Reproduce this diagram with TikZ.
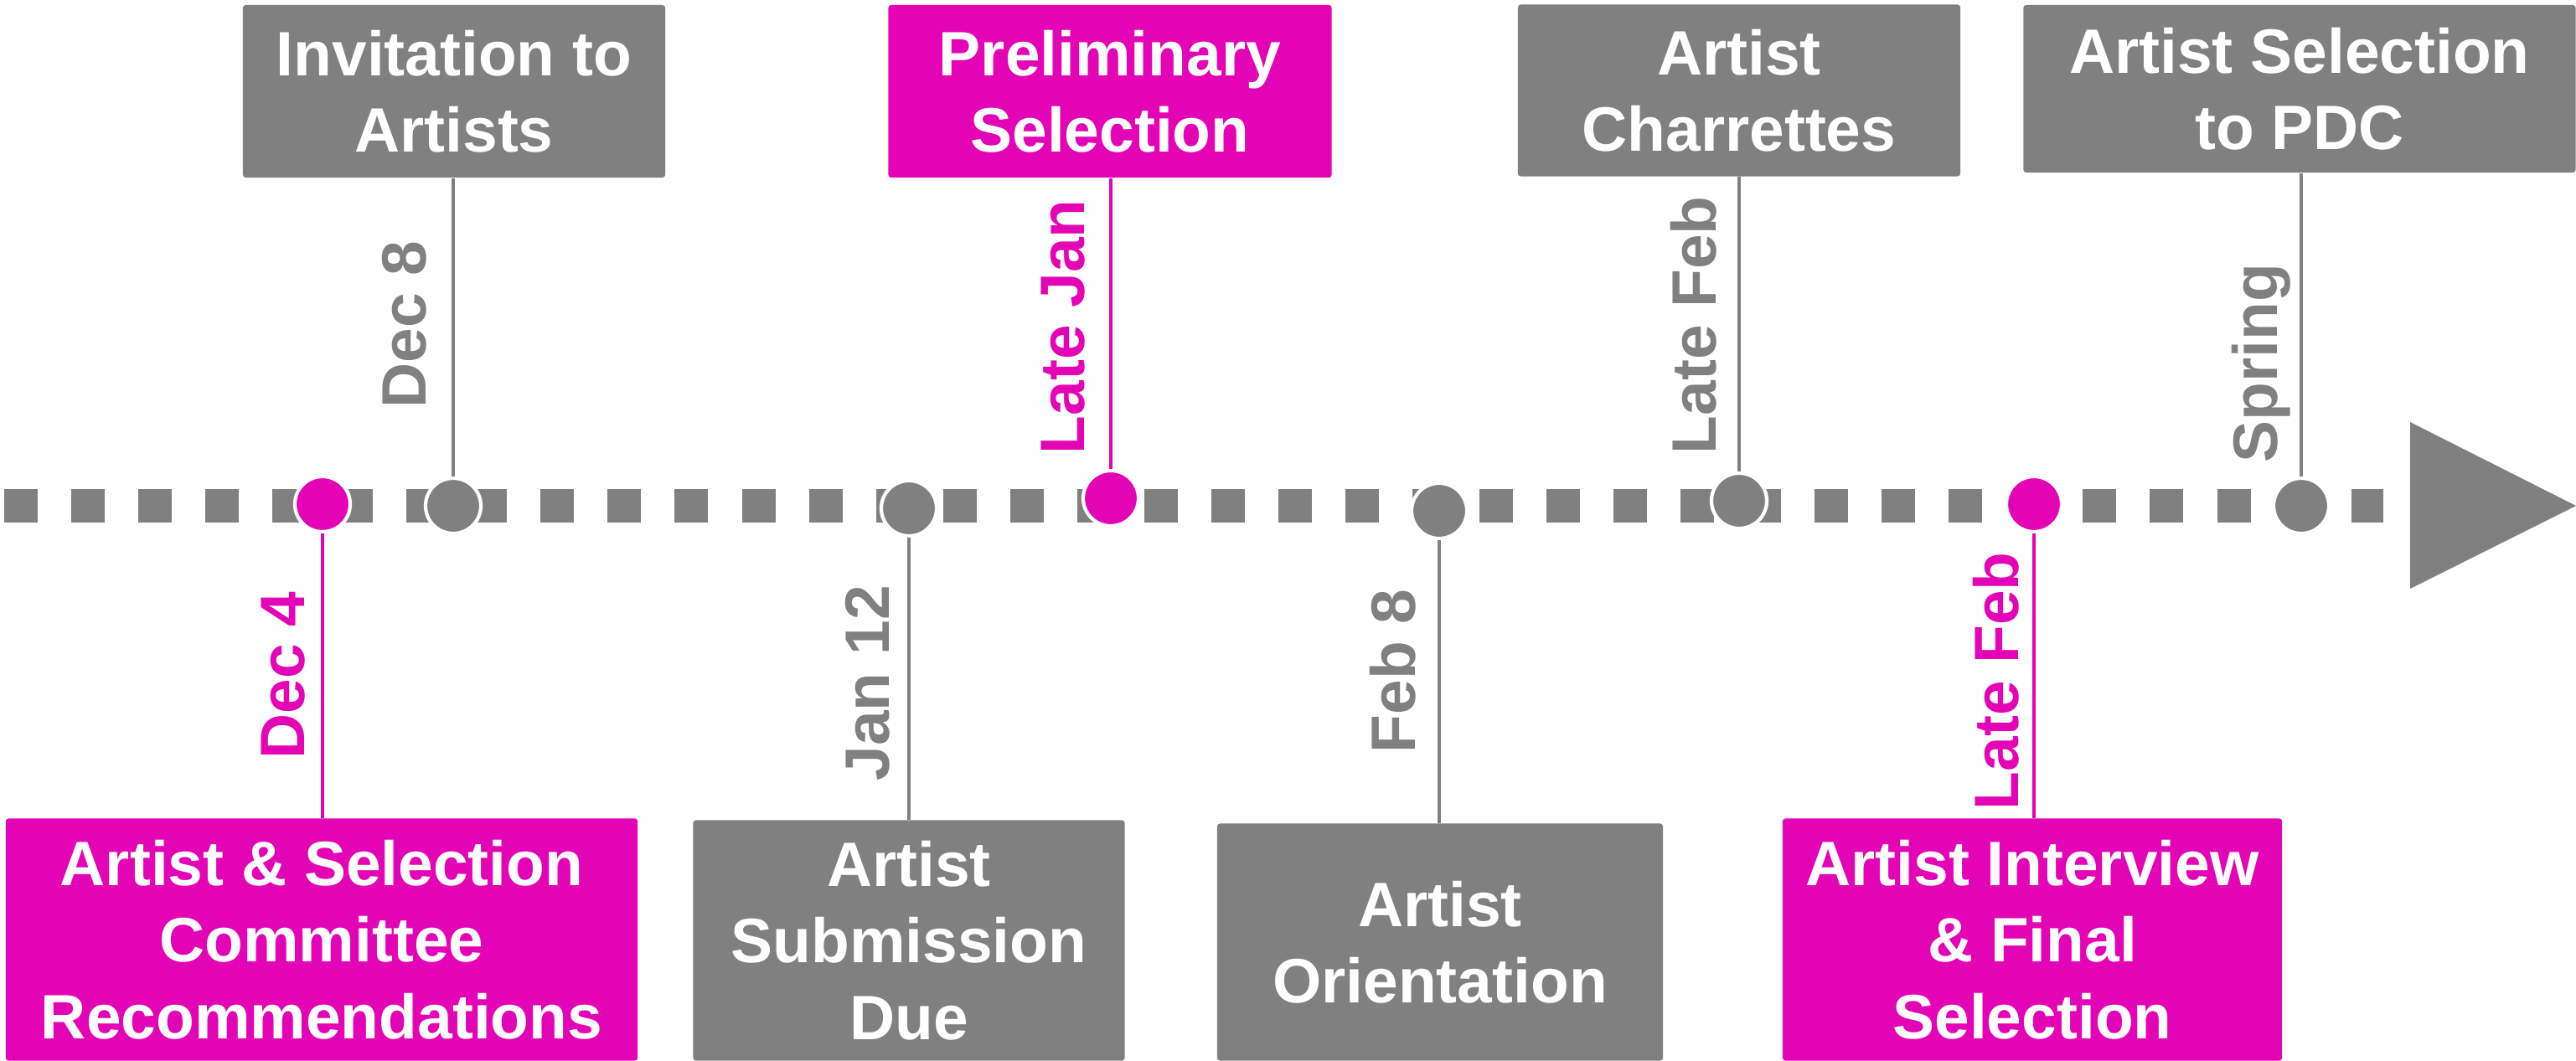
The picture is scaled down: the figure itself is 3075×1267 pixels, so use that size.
\documentclass[tikz,border=0pt]{standalone}
\usepackage{fontspec}
\setmainfont{Liberation Sans}
\usetikzlibrary{positioning}
\definecolor{tlgray}{HTML}{808080}
\definecolor{tlpink}{HTML}{E304B5}

\begin{document}
\begin{tikzpicture}[x=0.01cm,y=-0.01cm,
  stage/.style={fill=#1, text=white, align=center, inner sep=0pt, rounded corners=1pt,
    font=\bfseries\fontsize{21.3}{26}\selectfont},
  milestone/.style={circle, fill=#1, draw=white, line width=1.2pt, minimum size=0.66cm, inner sep=0pt},
  stem/.style={draw=#1, line width=1.4pt},
  datelbl/.style={text=#1, rotate=90, anchor=base west, inner sep=0pt,
    font=\bfseries\fontsize{21.3}{26}\selectfont}]
  \useasboundingbox (0,0) rectangle (3075,1267);

  % timeline
  \draw[tlgray, line width=0.4cm, dash pattern=on 0.4cm off 0.4cm] (5,604) -- (2845,604);
  \fill[tlgray] (2877,504) -- (3075,604) -- (2877,703) -- cycle;

  % boxes above
  \node[stage=tlgray, minimum width=5.04cm, minimum height=2.06cm] (invite) at (542,109) {Invitation to\\Artists};
  \node[stage=tlpink, minimum width=5.29cm, minimum height=2.06cm] (prelim) at (1325,109) {Preliminary\\Selection};
  \node[stage=tlgray, minimum width=5.28cm, minimum height=2.05cm] (charrette) at (2076,108) {Artist\\Charrettes};
  \node[stage=tlgray, minimum width=6.59cm, minimum height=2.00cm] (pdc) at (2745,106) {Artist Selection\\to PDC};

  % boxes below
  \node[stage=tlpink, minimum width=7.54cm, minimum height=2.89cm] (recomm) at (384,1122) {Artist \& Selection\\Committee\\Recommendations};
  \node[stage=tlgray, minimum width=5.15cm, minimum height=2.87cm] (submit) at (1085,1123) {Artist\\Submission\\Due};
  \node[stage=tlgray, minimum width=5.32cm, minimum height=2.83cm] (orient) at (1719,1125) {Artist\\Orientation};
  \node[stage=tlpink, minimum width=5.96cm, minimum height=2.89cm] (interview) at (2426,1122) {Artist Interview\\\& Final\\Selection};

  % milestones
  \node[milestone=tlpink] (dec4) at (385,602) {};
  \node[milestone=tlgray] (dec8) at (541,604) {};
  \node[milestone=tlgray] (jan12) at (1085,607) {};
  \node[milestone=tlpink] (latejan) at (1326,595) {};
  \node[milestone=tlgray] (feb8) at (1718,610) {};
  \node[milestone=tlgray] (latefeb) at (2076,598) {};
  \node[milestone=tlpink] (latefebb) at (2428,602) {};
  \node[milestone=tlgray] (spring) at (2747,604) {};

  \draw[stem=tlgray] (dec8.north) -- (dec8 |- invite.south);
  \draw[stem=tlpink] (latejan.north) -- (latejan |- prelim.south);
  \draw[stem=tlgray] (latefeb.north) -- (latefeb |- charrette.south);
  \draw[stem=tlgray] (spring.north) -- (spring |- pdc.south);
  \draw[stem=tlpink] (dec4.south) -- (dec4 |- recomm.north);
  \draw[stem=tlgray] (jan12.south) -- (jan12 |- submit.north);
  \draw[stem=tlgray] (feb8.south) -- (feb8 |- orient.north);
  \draw[stem=tlpink] (latefebb.south) -- (latefebb |- interview.north);

  % dates
  \node[datelbl=tlgray] (ldec8) at (508,488) {Dec 8};
  \node[datelbl=tlpink] (llatejan) at (1294,543) {Late Jan};
  \node[datelbl=tlgray] (llatefeb) at (2048,543) {Late Feb};
  \node[datelbl=tlgray] (lspring) at (2718,553) {Spring};
  \node[datelbl=tlpink] (ldec4) at (363,907) {Dec 4};
  \node[datelbl=tlgray] (ljan12) at (1061,933) {Jan 12};
  \node[datelbl=tlgray] (lfeb8) at (1689,900) {Feb 8};
  \node[datelbl=tlpink] (llatefebb) at (2409,968) {Late Feb};
\end{tikzpicture}
\end{document}
